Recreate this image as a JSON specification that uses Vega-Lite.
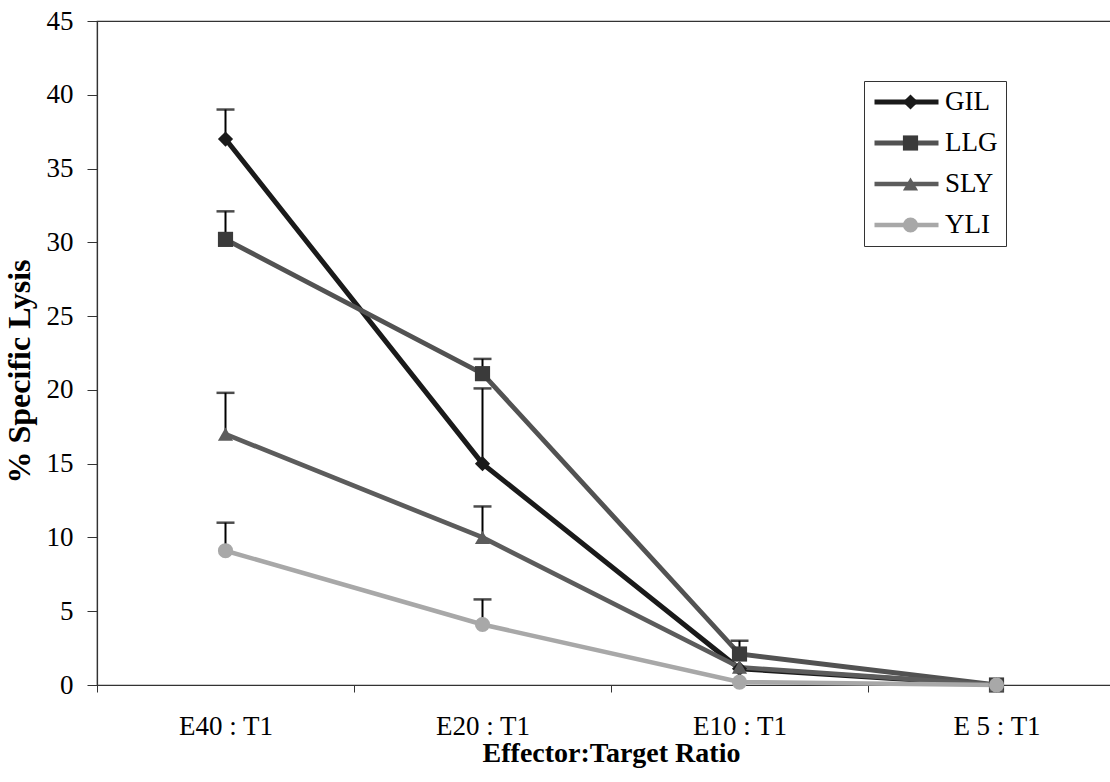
{
  "$schema": "https://vega.github.io/schema/vega-lite/v6.json",
  "autosize": "none",
  "width": 1028,
  "height": 664,
  "padding": {"left": 97, "top": 21, "right": 0, "bottom": 97},
  "background": "white",
  "config": {
    "font": "Liberation Serif",
    "view": {"stroke": "#333333", "strokeWidth": 1.2},
    "axis": {"grid": false, "domainColor": "#333333", "tickColor": "#333333", "labelColor": "black", "titleColor": "black", "labelFont": "Liberation Serif", "titleFont": "Liberation Serif"}
  },
  "data": {
    "values": [
      {"ratio": "E40 : T1", "series": "GIL", "value": 37, "upper": 39},
      {"ratio": "E20 : T1", "series": "GIL", "value": 15, "upper": 20.1},
      {"ratio": "E10 : T1", "series": "GIL", "value": 1.1, "upper": null},
      {"ratio": "E 5  : T1", "series": "GIL", "value": 0, "upper": null},
      {"ratio": "E40 : T1", "series": "LLG", "value": 30.2, "upper": 32.1},
      {"ratio": "E20 : T1", "series": "LLG", "value": 21.1, "upper": 22.1},
      {"ratio": "E10 : T1", "series": "LLG", "value": 2.1, "upper": 3.0},
      {"ratio": "E 5  : T1", "series": "LLG", "value": 0, "upper": null},
      {"ratio": "E40 : T1", "series": "SLY", "value": 17, "upper": 19.8},
      {"ratio": "E20 : T1", "series": "SLY", "value": 10, "upper": 12.1},
      {"ratio": "E10 : T1", "series": "SLY", "value": 1.2, "upper": null},
      {"ratio": "E 5  : T1", "series": "SLY", "value": 0, "upper": null},
      {"ratio": "E40 : T1", "series": "YLI", "value": 9.1, "upper": 11},
      {"ratio": "E20 : T1", "series": "YLI", "value": 4.1, "upper": 5.8},
      {"ratio": "E10 : T1", "series": "YLI", "value": 0.2, "upper": null},
      {"ratio": "E 5  : T1", "series": "YLI", "value": 0, "upper": null}
    ]
  },
  "encoding": {
    "x": {
      "field": "ratio", "type": "nominal",
      "scale": {"domain": ["E40 : T1", "E20 : T1", "E10 : T1", "E 5  : T1"], "paddingInner": 0, "paddingOuter": 0},
      "axis": {"title": "Effector:Target Ratio", "labelAngle": 0, "tickBand": "extent", "tickSize": 7, "labelPadding": 21, "labelFontSize": 27, "titleFontSize": 28, "titleFontWeight": "bold", "titlePadding": 0, "domainWidth": 1.2}
    },
    "y": {
      "field": "value", "type": "quantitative",
      "scale": {"domain": [0, 45], "nice": false},
      "axis": {"title": "% Specific Lysis", "values": [0, 5, 10, 15, 20, 25, 30, 35, 40, 45], "tickSize": 10, "labelPadding": 14, "labelFontSize": 27, "titleFontSize": 32, "titleFontWeight": "bold", "titlePadding": 10, "titleY": 350, "domainWidth": 1.2}
    }
  },
  "layer": [
    {
      "transform": [{"filter": "datum.upper != null"}],
      "mark": {"type": "rule", "color": "black", "strokeWidth": 2},
      "encoding": {"y2": {"field": "upper"}}
    },
    {
      "transform": [{"filter": "datum.upper != null"}],
      "mark": {"type": "tick", "color": "black", "size": 18, "thickness": 2.5},
      "encoding": {"y": {"field": "upper", "type": "quantitative"}}
    },
    {
      "mark": {"type": "line"},
      "encoding": {
        "color": {
          "field": "series", "type": "nominal",
          "scale": {"domain": ["GIL", "LLG", "SLY", "YLI"], "range": ["#1a1a1a", "#525252", "#5c5c5c", "#a8a8a8"]},
          "legend": {
            "title": null, "orient": "none", "legendX": 767, "legendY": 60, "direction": "vertical",
            "strokeColor": "#333333", "fillColor": "white", "padding": 8,
            "labelFont": "Liberation Serif", "labelFontSize": 27, "labelColor": "black", "labelOffset": 4,
            "symbolType": "stroke", "symbolSize": 4096, "symbolStrokeWidth": 4, "symbolOffset": 0,
            "clipHeight": 26, "rowPadding": 14
          }
        },
        "strokeWidth": {"field": "series", "type": "nominal", "scale": {"domain": ["GIL", "LLG", "SLY", "YLI"], "range": [5, 4.5, 4.5, 3.5]}, "legend": null}
      }
    },
    {
      "mark": {"type": "point", "filled": true, "size": 230, "opacity": 1},
      "encoding": {
        "fill": {
          "field": "series", "type": "nominal",
          "scale": {"range": ["#1a1a1a", "#3a3a3a", "#5c5c5c", "#a8a8a8"]},
          "legend": {
            "title": null, "orient": "none", "legendX": 767, "legendY": 60, "direction": "vertical",
            "strokeColor": null, "fillColor": null, "padding": 8,
            "labelFont": "Liberation Serif", "labelFontSize": 27, "labelExpr": "''", "labelOffset": 4,
            "symbolSize": 230, "symbolOffset": 25, "symbolStrokeWidth": 0,
            "clipHeight": 26, "rowPadding": 14
          }
        },
        "shape": {
          "field": "series", "type": "nominal",
          "scale": {"range": ["diamond", "square", "triangle-up", "circle"]},
          "legend": {
            "title": null, "orient": "none", "legendX": 767, "legendY": 60, "direction": "vertical",
            "strokeColor": null, "fillColor": null, "padding": 8,
            "labelFont": "Liberation Serif", "labelFontSize": 27, "labelExpr": "''", "labelOffset": 4,
            "symbolSize": 230, "symbolOffset": 25, "symbolStrokeWidth": 0,
            "clipHeight": 26, "rowPadding": 14
          }
        }
      }
    }
  ]
}
